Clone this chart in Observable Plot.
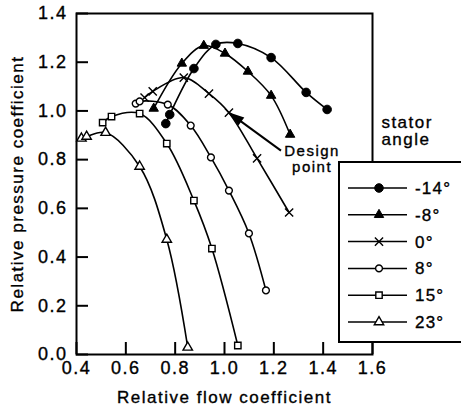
<!DOCTYPE html>
<html>
<head>
<meta charset="utf-8">
<script src="https://cdn.jsdelivr.net/npm/d3@7"></script>
<script src="https://cdn.jsdelivr.net/npm/@observablehq/plot@0.6"></script>
<style>
  html, body { margin: 0; padding: 0; background: #fff; }
  #chart { width: 461px; height: 410px; overflow: hidden; }
  #chart svg text { stroke: black; stroke-width: 0.35px; }
</style>
</head>
<body>
<div id="chart"></div>
<script>
// ---- data ----
const angles = ["-14°", "-8°", "0°", "8°", "15°", "23°"];
const flowM14 = [0.762, 0.778, 0.876, 0.965, 1.054, 1.189, 1.331, 1.416];
const presM14 = [0.948, 0.985, 1.174, 1.273, 1.277, 1.219, 1.076, 1.006];
const flowM8  = [0.713, 0.827, 0.916, 1.002, 1.095, 1.189, 1.266];
const presM8  = [1.010, 1.195, 1.268, 1.236, 1.162, 1.063, 0.903];
const flow0   = [0.676, 0.709, 0.835, 0.937, 1.018, 1.132, 1.262];
const pres0   = [1.055, 1.080, 1.137, 1.071, 0.993, 0.805, 0.583];
const flow8   = [0.640, 0.656, 0.770, 0.863, 0.945, 1.018, 1.099, 1.168];
const pres8   = [1.030, 1.039, 1.026, 0.940, 0.809, 0.673, 0.497, 0.263];
const flow15  = [0.506, 0.542, 0.656, 0.766, 0.876, 0.949, 1.054];
const pres15  = [0.952, 0.977, 0.989, 0.866, 0.632, 0.435, 0.037];
const flow23  = [0.420, 0.441, 0.518, 0.656, 0.766, 0.851];
const pres23  = [0.887, 0.895, 0.911, 0.772, 0.472, 0.029];
const xTicks = [0.4, 0.6, 0.8, 1.0, 1.2, 1.4, 1.6];
const yTicks = [0.0, 0.2, 0.4, 0.6, 0.8, 1.0, 1.2, 1.4];
const symbols = ["circle", "triangle", "times", "circle", "square", "triangle"];
const filled = ["-14°", "-8°"];
const designPoint = {flow: 1.018, pressure: 0.993};
const xLabel = "Relative flow coefficient";
const yLabel = "Relative pressure coefficient";
const legendTitle = ["stator", "angle"];
const designLabel = ["Design", "point"];

// ---- build table ----
const seriesFlow = [flowM14, flowM8, flow0, flow8, flow15, flow23];
const seriesPres = [presM14, presM8, pres0, pres8, pres15, pres23];
const rows = [];
angles.forEach((a, i) => seriesFlow[i].forEach((f, j) => rows.push({angle: a, flow: f, pressure: seriesPres[i][j]})));
const filledRows = rows.filter(d => filled.includes(d.angle));
const openRows = rows.filter(d => !filled.includes(d.angle));
const sizeOf = a => ({"-14°": 4.3, "-8°": 3.5, "0°": 3.8, "8°": 3.4, "15°": 3.6, "23°": 3.5})[a];

const font = "'Liberation Sans', Arial, Helvetica, sans-serif";

const plot = Plot.plot({
  width: 461,
  height: 410,
  marginLeft: 76,
  marginRight: 89,
  marginTop: 13,
  marginBottom: 56,
  style: {fontFamily: font, fontSize: "17px", letterSpacing: "1.5px", background: "white", color: "black"},
  x: {domain: [0.4, 1.6]},
  y: {domain: [0, 1.4]},
  symbol: {domain: angles, range: symbols},
  r: {type: "identity"},
  marks: [
    Plot.axisX({ticks: xTicks, tickSize: -12, tickPadding: 19, strokeWidth: 2, tickFormat: d3.format(".1f"), label: null, fontSize: 18}),
    Plot.axisY({ticks: yTicks, tickSize: -12, tickPadding: 21, strokeWidth: 2, tickFormat: d3.format(".1f"), label: null, fontSize: 18}),
    Plot.frame({stroke: "black", strokeWidth: 2}),
    Plot.line(rows, {x: "flow", y: "pressure", z: "angle", curve: "catmull-rom", stroke: "black", strokeWidth: 1.6}),
    Plot.dot(openRows, {x: "flow", y: "pressure", symbol: "angle", r: d => sizeOf(d.angle), fill: "white", stroke: "black", strokeWidth: 1.4}),
    Plot.dot(filledRows, {x: "flow", y: "pressure", symbol: "angle", r: d => sizeOf(d.angle), fill: "black", stroke: "black", strokeWidth: 1}),
    Plot.link([designPoint], {x1: d => d.flow + 0.211, y1: d => d.pressure - 0.156, x2: "flow", y2: "pressure", stroke: "black", strokeWidth: 2}),
    Plot.text(designLabel, {x: designPoint.flow + 0.337, y: (d, i) => designPoint.pressure - 0.135 - i * 0.064, text: d => d, lineAnchor: "top", fontSize: 15, letterSpacing: "1.2px"}),
    Plot.text(legendTitle, {x: 1.636, y: (d, i) => 0.98 - i * 0.072, text: d => d, textAnchor: "start", lineAnchor: "top", fontSize: 17}),
    Plot.text([xLabel], {frameAnchor: "bottom", dy: 48, text: d => d, fontSize: 17}),
    Plot.text([yLabel], {frameAnchor: "left", dx: -59, rotate: -90, textAnchor: "middle", text: d => d, fontSize: 17})
  ]
});

document.getElementById("chart").appendChild(plot);

// ---- arrow head (filled), positioned through the plot's scales ----
const svg = d3.select(plot);
const sx = plot.scale("x"), sy = plot.scale("y");
{
  const tx = sx.apply(designPoint.flow), ty = sy.apply(designPoint.pressure);
  const fx = sx.apply(designPoint.flow + 0.211), fy = sy.apply(designPoint.pressure - 0.156);
  const ang = Math.atan2(fy - ty, fx - tx);
  const L = 16, W = 5;
  const bx = tx + L * Math.cos(ang), by = ty + L * Math.sin(ang);
  const px = -Math.sin(ang), py = Math.cos(ang);
  svg.append("path")
    .attr("d", `M${tx},${ty}L${bx + W * px},${by + W * py}L${bx - W * px},${by - W * py}Z`)
    .attr("fill", "black");
}

// ---- legend box ----
const lg = svg.append("g").attr("font-family", font).attr("font-size", 17).attr("letter-spacing", "1.2px").attr("text-anchor", "start");
lg.append("rect").attr("x", 339).attr("y", 162).attr("width", 130).attr("height", 180)
  .attr("fill", "white").attr("stroke", "black").attr("stroke-width", 2);
const symMap = {circle: d3.symbolCircle, triangle: d3.symbolTriangle, times: d3.symbolTimes, square: d3.symbolSquare};
angles.forEach((a, i) => {
  const y = 188 + i * 26.8;
  lg.append("line").attr("x1", 348).attr("x2", 407).attr("y1", y).attr("y2", y).attr("stroke", "black").attr("stroke-width", 1.5);
  const r = sizeOf(a);
  const isFilled = filled.includes(a);
  lg.append("path")
    .attr("transform", `translate(379,${y})`)
    .attr("d", d3.symbol(symMap[symbols[i]], Math.PI * r * r)())
    .attr("fill", symbols[i] === "times" ? "none" : (isFilled ? "black" : "white"))
    .attr("stroke", "black").attr("stroke-width", isFilled ? 1 : 1.4);
  lg.append("text").attr("x", 415).attr("y", y).attr("dy", "0.35em").attr("text-anchor", "start").text(a);
});
</script>
</body>
</html>
